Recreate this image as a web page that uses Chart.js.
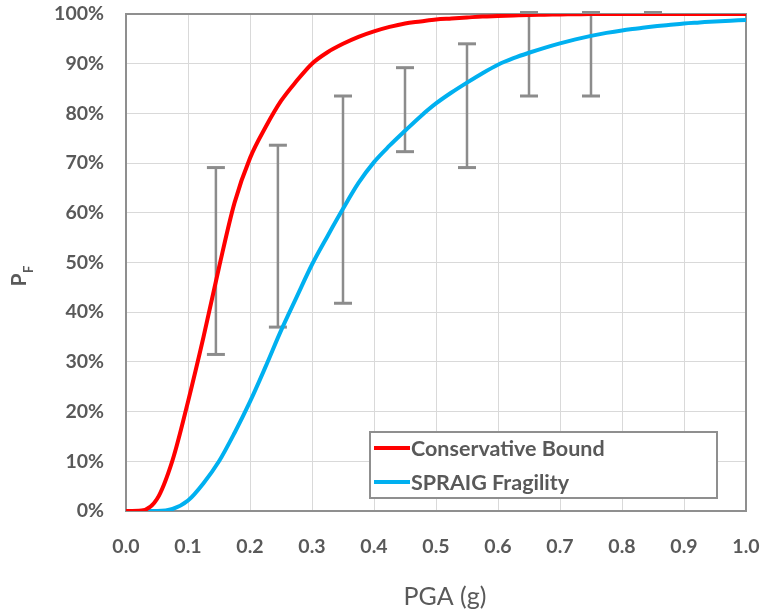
<!DOCTYPE html>
<html>
<head>
<meta charset="utf-8">
<script src="https://cdn.jsdelivr.net/npm/chart.js@4.4.1/dist/chart.umd.min.js"></script>
<style>
  body { margin: 0; background: #fff; }
  #wrap { width: 762px; height: 609px; position: relative; }
</style>
</head>
<body>
<div id="wrap"><canvas id="fragility"></canvas></div>
<script>
// PGA grid (g) shared by both curves
const pga = [0, 0.025, 0.05, 0.075, 0.1, 0.125, 0.15, 0.175, 0.2, 0.225, 0.25, 0.275, 0.3, 0.325, 0.35, 0.375, 0.4, 0.425, 0.45, 0.475, 0.5,
             0.525, 0.55, 0.575, 0.6, 0.625, 0.65, 0.675, 0.7, 0.725, 0.75, 0.775, 0.8, 0.825, 0.85, 0.875, 0.9, 0.925, 0.95, 0.975, 1.0];

// probability of failure, %
const conservativeBound = [0, 0.1, 2.4, 10.2, 22, 35, 49, 62, 71, 77.2, 82.5, 86.5, 90, 92.3, 94.0, 95.4, 96.5, 97.4, 98.1, 98.5, 98.9,
                           99.1, 99.3, 99.5, 99.6, 99.7, 99.8, 99.85, 99.9, 99.95, 100, 100, 100, 100, 100, 100, 100, 100, 100, 100, 100];
const spraigFragility = [0, 0, 0, 0.4, 2.1, 5.6, 10, 15.7, 22, 29, 36.3, 43, 49.6, 55.3, 60.8, 66, 70.2, 73.5, 76.5, 79.4, 82,
                         84.2, 86.2, 88.1, 89.8, 91.1, 92.2, 93.2, 94.1, 94.9, 95.6, 96.2, 96.7, 97.1, 97.5, 97.8, 98.1, 98.3, 98.5, 98.65, 98.8];

// test data ranges
const errPga  = [0.145, 0.245, 0.35, 0.45, 0.55, 0.65, 0.75, 0.85];
const errLow  = [31.5, 37.0, 41.8, 72.3, 69.1, 83.5, 83.5, 100.3];
const errHigh = [69.1, 73.6, 83.5, 89.2, 94.0, 100.3, 100.3, 100.3];

const xTicks = [0, 0.1, 0.2, 0.3, 0.4, 0.5, 0.6, 0.7, 0.8, 0.9, 1.0];
const yTicks = [0, 10, 20, 30, 40, 50, 60, 70, 80, 90, 100];

const textGray = '#595959';
const tickFont = { family: 'Lato', size: 19.5, weight: 'bold' };

const curve = (ys) => pga.map((x, i) => ({ x: x, y: ys[i] }));

// one polyline for all bars, broken by null points
const errPoints = [];
errPga.forEach((x, i) => {
    errPoints.push({ x: x, y: errLow[i] }, { x: x, y: errHigh[i] }, { x: x, y: null });
});

const chromePlugin = {
    id: 'chrome',
    beforeDatasetsDraw(chart) {
        const { ctx, chartArea: a } = chart;
        ctx.save();
        ctx.strokeStyle = '#8f8f8f';
        ctx.lineWidth = 2;
        ctx.strokeRect(a.left, a.top, a.right - a.left, a.bottom - a.top);
        ctx.restore();
    },
    afterDraw(chart) {
        const ctx = chart.ctx;
        ctx.save();
        ctx.fillStyle = textGray;

        // x axis title
        ctx.font = '25px Lato';
        ctx.textAlign = 'center';
        ctx.textBaseline = 'middle';
        ctx.fillText('PGA (g)', 445, 597);

        // y axis title, P with subscript F
        ctx.translate(18, 280);
        ctx.rotate(-Math.PI / 2);
        ctx.textBaseline = 'alphabetic';
        ctx.textAlign = 'center';
        ctx.font = 'bold 21px Lato';
        ctx.fillText('P', 0, 7.5);
        ctx.textAlign = 'left';
        ctx.font = 'bold 13px Lato';
        ctx.fillText('F', 7, 15);
        ctx.restore();

        // legend box
        ctx.save();
        const lx = 370, ly = 432, lw = 347, lh = 66;
        ctx.fillStyle = '#fff';
        ctx.fillRect(lx, ly, lw, lh);
        ctx.strokeStyle = '#8f8f8f';
        ctx.lineWidth = 2;
        ctx.strokeRect(lx, ly, lw, lh);
        const items = chart.data.datasets.filter(d => d.label);
        items.forEach((d, i) => {
            const y = 448 + i * 34;
            ctx.strokeStyle = d.borderColor;
            ctx.lineWidth = 4;
            ctx.beginPath();
            ctx.moveTo(374, y);
            ctx.lineTo(410, y);
            ctx.stroke();
            ctx.fillStyle = textGray;
            ctx.font = 'bold 21.5px Lato';
            ctx.textAlign = 'left';
            ctx.textBaseline = 'middle';
            ctx.fillText(d.label, 411, y + 1);
        });
        ctx.restore();
    }
};

new Chart(document.getElementById('fragility'), {
    type: 'line',
    data: {
        datasets: [
            {
                label: 'Conservative Bound',
                data: curve(conservativeBound),
                borderColor: '#ff0000',
                borderWidth: 4,
                pointRadius: 0,
                cubicInterpolationMode: 'monotone',
                order: 0
            },
            {
                label: 'SPRAIG Fragility',
                data: curve(spraigFragility),
                borderColor: '#00b0f0',
                borderWidth: 4,
                pointRadius: 0,
                cubicInterpolationMode: 'monotone',
                order: 0
            },
            {
                data: errPoints,
                borderColor: '#8c8c8c',
                borderWidth: 2.5,
                pointStyle: 'line',
                pointRadius: 9,
                pointBorderWidth: 3,
                pointBorderColor: '#8c8c8c',
                spanGaps: false,
                clip: false,
                order: 1
            }
        ]
    },
    options: {
        responsive: true,
        maintainAspectRatio: false,
        animation: false,
        layout: { padding: { top: 14, right: 16, left: 0, bottom: 0 } },
        plugins: {
            legend: { display: false },
            tooltip: { enabled: false }
        },
        scales: {
            x: {
                type: 'linear',
                min: 0,
                max: 1,
                afterBuildTicks: (s) => { s.ticks = xTicks.map(v => ({ value: v })); },
                afterFit: (s) => {
                    s.height = 98;
                    s.paddingLeft = 0;
                    s.paddingRight = 0;
                },
                grid: { color: '#d9d9d9', lineWidth: 1, drawTicks: false },
                border: { display: false },
                ticks: {
                    padding: 24,
                    color: textGray,
                    font: tickFont,
                    maxRotation: 0,
                    callback: (v) => v.toFixed(1)
                }
            },
            y: {
                min: 0,
                max: 100,
                afterBuildTicks: (s) => { s.ticks = yTicks.map(v => ({ value: v })); },
                afterFit: (s) => {
                    s.width = 126;
                    s.paddingTop = 0;
                    s.paddingBottom = 0;
                },
                grid: { color: '#d9d9d9', lineWidth: 1, drawTicks: false },
                border: { display: false },
                ticks: {
                    padding: 22,
                    color: textGray,
                    font: tickFont,
                    callback: (v) => v + '%'
                }
            }
        }
    },
    plugins: [chromePlugin]
});
</script>
</body>
</html>
